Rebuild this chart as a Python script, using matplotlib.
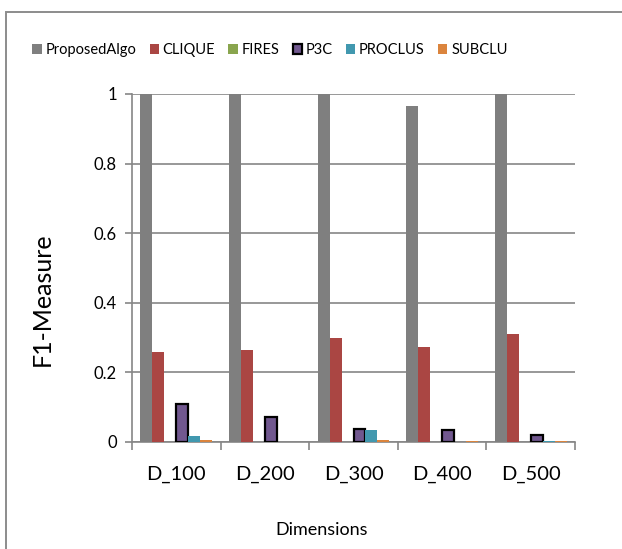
import matplotlib.pyplot as plt
import numpy as np
from matplotlib.patches import Rectangle

plt.rcParams['font.family'] = ['Lato', 'DejaVu Sans']

dims = ['D_100', 'D_200', 'D_300', 'D_400', 'D_500']
algos = ['ProposedAlgo', 'CLIQUE', 'FIRES', 'P3C', 'PROCLUS', 'SUBCLU']

proposed = [1.0, 1.0, 1.0, 0.965, 1.0]
clique = [0.26, 0.265, 0.30, 0.272, 0.31]
fires = [0.0, 0.0, 0.0, 0.0, 0.0]
p3c = [0.108, 0.073, 0.036, 0.034, 0.02]
proclus = [0.017, 0.0, 0.035, 0.0, 0.004]
subclu = [0.005, 0.0, 0.006, 0.004, 0.002]

series = [proposed, clique, fires, p3c, proclus, subclu]
colors = ['#7f7f7f', '#aa4643', '#89a54e', '#71588f', '#4198af', '#db843d']

fig = plt.figure(figsize=(6.22, 5.49), dpi=100)
# chart frame (right and bottom edges run off the canvas)
fig.patches.append(Rectangle((6 / 622, -0.1), 1.2, 1 - 12 / 549 + 0.1,
                             transform=fig.transFigure, fill=False,
                             edgecolor='#8c8c8c', linewidth=1.4))

ax = fig.add_axes([132 / 622, 1 - 442 / 549, (575 - 132) / 622, (442 - 94) / 549])

x = np.arange(len(dims))
w = 0.135
for j, (name, vals, c) in enumerate(zip(algos, series, colors)):
    pos = x + (j - 2.5) * w
    if name == 'P3C':
        ax.bar(pos, vals, w, color=c, edgecolor='black', linewidth=1.6,
               label=name, zorder=3)
    else:
        ax.bar(pos, vals, w, color=c, label=name, zorder=3)

ax.set_xlim(-0.5, len(dims) - 0.5)
ax.set_ylim(0, 1)
ax.set_yticks([0, 0.2, 0.4, 0.6, 0.8, 1])
ax.set_yticklabels(['0', '0.2', '0.4', '0.6', '0.8', '1'], fontsize=12)
ax.yaxis.grid(True, color='#868686', linewidth=1.2, zorder=0)

ax.set_xticks(x)
ax.set_xticklabels(dims, fontsize=14.5)
ax.set_xticks(np.arange(-0.5, len(dims)), minor=True)
ax.tick_params(axis='x', which='major', length=0, pad=17)
ax.tick_params(axis='x', which='minor', length=6, color='#868686', width=1.2)
ax.tick_params(axis='y', length=5, color='#868686', width=1.2, pad=6)

for s in ['top', 'right']:
    ax.spines[s].set_visible(False)
for s in ['left', 'bottom']:
    ax.spines[s].set_color('#868686')
    ax.spines[s].set_linewidth(1.2)

ax.set_ylabel('F1-Measure', fontsize=18)
ax.yaxis.set_label_coords(-0.176, 0.41)
ax.set_xlabel('Dimensions', fontsize=13)
ax.xaxis.set_label_coords(0.427, -0.23)

ax.legend(loc='center', bbox_to_anchor=(270 / 622, 1 - 50 / 549),
          bbox_transform=fig.transFigure, ncol=6, frameon=False,
          fontsize=10.5, handlelength=0.65, handleheight=0.65,
          handletextpad=0.25, columnspacing=0.9)

fig.savefig('out.png', dpi=100)
